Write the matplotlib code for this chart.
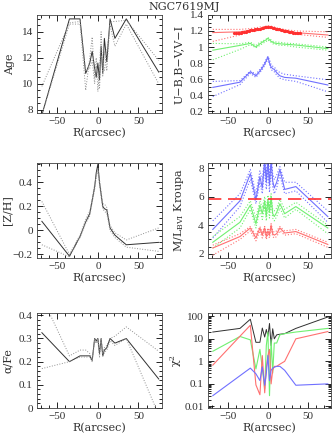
import numpy as np
import matplotlib.pyplot as plt
from matplotlib.ticker import MultipleLocator, FuncFormatter, FixedLocator, LogLocator

# tick numbers in a narrow serif, axis titles in a wider one
plt.rcParams['font.family'] = ['Liberation Serif', 'DejaVu Serif']
plt.rcParams['font.size'] = 7.5
plt.rcParams['mathtext.fontset'] = 'dejavuserif'
LABEL_FONT = ['DejaVu Serif']

# --------------------
# data
# --------------------
R = [-69, -35, -22, -15, -10, -7, -4, -2, 0, 2, 4, 6, 8, 11, 15, 21, 35, 75]

age = [7.6, 15.0, 15.0, 10.8, 11.6, 12.5, 11.2, 10.5, 11.6, 10.3, 12.9, 10.8, 13.5, 11.7, 15.0, 13.5, 15.0, 10.9]
age_hi = [9.8, 14.7, 14.8, 9.5, 12.0, 13.6, 10.5, 12.0, 9.4, 11.0, 14.0, 10.6, 12.5, 11.0, 14.8, 14.8, 14.9, 11.8]
age_lo = [7.6, 14.6, 14.6, 11.0, 11.2, 11.8, 10.0, 11.4, 10.8, 9.6, 12.2, 11.4, 11.0, 12.5, 14.5, 12.9, 14.6, 10.0]

zh = [0.075, -0.215, -0.05, 0.07, 0.14, 0.25, 0.36, 0.48, 0.55, 0.40, 0.30, 0.20, 0.18, 0.17, 0.02, -0.04, -0.12, -0.10]
zh_hi = [0.24, -0.20, -0.04, 0.09, 0.16, 0.26, 0.38, 0.46, 0.52, 0.42, 0.32, 0.22, 0.22, 0.19, 0.04, -0.02, -0.08, 0.02]
zh_lo = [-0.12, -0.22, -0.06, 0.06, 0.12, 0.23, 0.34, 0.44, 0.50, 0.38, 0.28, 0.18, 0.16, 0.14, 0.00, -0.06, -0.14, -0.175]

afe = [0.325, 0.20, 0.225, 0.225, 0.225, 0.205, 0.30, 0.29, 0.30, 0.235, 0.30, 0.225, 0.25, 0.26, 0.30, 0.28, 0.30, 0.125]
afe_hi = [0.48, 0.225, 0.25, 0.25, 0.235, 0.21, 0.30, 0.28, 0.30, 0.25, 0.30, 0.24, 0.26, 0.27, 0.30, 0.31, 0.35, 0.245]
afe_lo = [0.17, 0.20, 0.22, 0.22, 0.22, 0.20, 0.29, 0.28, 0.29, 0.22, 0.29, 0.22, 0.24, 0.25, 0.29, 0.27, 0.30, -0.03]

# colours: V-I (red), B-V (green), U-B (blue)
vi = [1.18, 1.19, 1.21, 1.22, 1.23, 1.24, 1.25, 1.255, 1.26, 1.25, 1.245, 1.24, 1.235, 1.23, 1.22, 1.21, 1.18, 1.15]
vi_hi = [1.22, 1.22, 1.23, 1.24, 1.25, 1.25, 1.26, 1.26, 1.27, 1.26, 1.26, 1.25, 1.25, 1.24, 1.23, 1.22, 1.20, 1.19]
vi_lo = [1.07, 1.15, 1.19, 1.20, 1.21, 1.22, 1.23, 1.24, 1.24, 1.24, 1.23, 1.22, 1.22, 1.21, 1.20, 1.19, 1.16, 1.12]
bv = [0.96, 1.02, 1.045, 1.0, 1.04, 1.06, 1.08, 1.09, 1.11, 1.09, 1.07, 1.06, 1.05, 1.045, 1.04, 1.035, 1.025, 0.98]
bv_hi = [1.045, 1.04, 1.06, 1.02, 1.06, 1.07, 1.09, 1.10, 1.12, 1.10, 1.09, 1.07, 1.07, 1.06, 1.06, 1.05, 1.04, 1.0]
bv_lo = [0.84, 0.97, 1.03, 0.99, 1.02, 1.04, 1.06, 1.07, 1.09, 1.07, 1.06, 1.04, 1.04, 1.03, 1.02, 1.02, 1.0, 0.96]
ub = [0.495, 0.56, 0.69, 0.64, 0.70, 0.74, 0.79, 0.83, 0.88, 0.80, 0.75, 0.73, 0.72, 0.68, 0.64, 0.62, 0.61, 0.525]
ub_hi = [0.57, 0.58, 0.70, 0.66, 0.72, 0.76, 0.81, 0.85, 0.88, 0.84, 0.78, 0.76, 0.75, 0.71, 0.68, 0.66, 0.64, 0.59]
ub_lo = [0.38, 0.53, 0.67, 0.62, 0.68, 0.72, 0.77, 0.81, 0.85, 0.78, 0.72, 0.70, 0.69, 0.65, 0.61, 0.59, 0.57, 0.44]

# observed V-I profile (dense points)
R_obs = [-42, -40, -38, -36, -34, -32, -30, -28, -26, -24, -22, -20, -18, -16, -14, -12, -10, -8, -6, -4, -2,
         0, 2, 4, 6, 8, 10, 12, 14, 16, 18, 20, 22, 24, 26, 28, 30, 32, 34, 36, 38, 40]
vi_obs = [1.17, 1.17, 1.175, 1.18, 1.18, 1.185, 1.19, 1.19, 1.20, 1.20, 1.21, 1.21, 1.215, 1.22, 1.22, 1.225,
          1.23, 1.235, 1.24, 1.245, 1.25, 1.255, 1.25, 1.245, 1.24, 1.235, 1.23, 1.225, 1.22, 1.215, 1.21,
          1.205, 1.20, 1.195, 1.19, 1.19, 1.185, 1.18, 1.175, 1.175, 1.17, 1.17]

# M/L in B, V, I
ml_b = [3.7, 5.7, 7.6, 5.8, 7.4, 6.6, 8.6, 7.0, 8.5, 6.8, 8.6, 7.1, 6.6, 7.0, 7.9, 6.5, 6.7, 4.6]
ml_b_hi = [4.3, 6.2, 7.9, 6.2, 7.8, 7.2, 8.8, 7.6, 8.9, 7.4, 8.8, 7.6, 7.2, 7.5, 8.1, 7.0, 7.0, 5.0]
ml_b_lo = [3.1, 5.3, 7.2, 5.5, 7.0, 6.2, 8.0, 6.5, 7.9, 6.3, 8.0, 6.7, 6.2, 6.6, 7.5, 6.2, 6.4, 4.2]
ml_v = [2.8, 4.2, 5.4, 4.1, 5.4, 4.8, 5.7, 4.6, 5.8, 4.9, 6.0, 4.8, 4.6, 4.9, 5.5, 4.8, 5.3, 3.8]
ml_v_hi = [3.2, 4.6, 5.7, 4.5, 5.7, 5.2, 6.0, 5.0, 6.1, 5.3, 6.2, 5.1, 5.0, 5.2, 5.8, 5.1, 5.6, 4.0]
ml_v_lo = [2.4, 3.8, 5.1, 3.8, 5.1, 4.4, 5.3, 4.3, 5.4, 4.5, 5.6, 4.5, 4.3, 4.6, 5.2, 4.5, 5.1, 3.4]
ml_i = [2.4, 3.2, 3.8, 3.1, 3.8, 3.3, 3.8, 3.2, 3.6, 3.3, 4.0, 3.4, 3.3, 3.4, 3.8, 3.45, 3.55, 2.65]
ml_i_hi = [2.6, 3.4, 3.9, 3.3, 3.9, 3.5, 3.9, 3.4, 3.8, 3.5, 4.1, 3.6, 3.5, 3.6, 3.9, 3.6, 3.7, 2.8]
ml_i_lo = [1.9, 3.0, 3.6, 2.9, 3.6, 3.1, 3.6, 3.0, 3.4, 3.1, 3.8, 3.2, 3.1, 3.2, 3.6, 3.3, 3.4, 2.45]
ml_dyn = 5.8

# chi^2 of the fits
chi_all = [20, 29, 74, 7, 7, 30, 12, 26, 13, 48, 5, 28, 10, 15, 16, 17, 29, 93]
chi_g = [2.8, 12.7, 9, 0.46, 3.4, 0.5, 0.06, 5, 20, 0.03, 9.2, 0.3, 6.5, 6.5, 15, 17, 20, 29]
chi_r = [0.68, 13, 40, 0.09, 0.033, 1.8, 0.04, 0.5, 1.8, 3.4, 0.1, 0.4, 0.6, 0.6, 0.75, 1.0, 10, 21]
chi_b = [0.03, 0.23, 0.5, 0.28, 0.14, 0.57, 0.087, 0.3, 1.8, 0.14, 0.4, 0.5, 0.55, 0.6, 0.6, 0.4, 0.087, 0.1]
chi_ticks = [0.01, 0.1, 1, 10, 100]

RED, GREEN, BLUE = '#ff3030', '#30e030', '#4040ff'
LRED, LGREEN, LBLUE = '#ff7070', '#70f070', '#7070ff'
DARK, GREY = '#303030', '#909090'
TXT = '#303030'

fig = plt.figure(figsize=(3.32, 4.38), dpi=100)

W, H = 332.0, 438.0
cols = [(37, 125), (208, 123)]
rows = [(15, 113), (163, 258), (313, 408)]


def make_ax(c, r):
    x0, w = cols[c]
    top, bot = rows[r]
    ax = fig.add_axes([x0 / W, 1 - bot / H, w / W, (bot - top) / H])
    ax.set_xlim(-75, 79)
    ax.xaxis.set_major_locator(MultipleLocator(50))
    ax.xaxis.set_minor_locator(MultipleLocator(10))
    ax.tick_params(which='both', direction='in', top=True, right=True, width=0.6, labelsize=8, pad=3,
                   labelcolor=TXT)
    ax.tick_params(which='major', length=4)
    ax.tick_params(which='minor', length=2)
    for s in ax.spines.values():
        s.set_linewidth(0.6)
        s.set_color('#404040')
    ax.set_xlabel('R(arcsec)', fontsize=8, labelpad=1, color=TXT, family=LABEL_FONT)
    return ax


def ylabel(ax, text, xpix, c):
    # place the y title centred at a given pixel column
    x0, w = cols[c]
    ax.set_ylabel(text, fontsize=8, color=TXT, family=LABEL_FONT, va='center')
    ax.yaxis.set_label_coords((xpix - x0) / w, 0.5)


fmt = FuncFormatter(lambda v, p: ('%g' % v).replace('-', '\u2212'))

# Age
ax = make_ax(0, 0)
ax.plot(R, age, color=DARK, lw=0.7)
ax.plot(R, age_hi, color=GREY, lw=0.7, ls=':')
ax.plot(R, age_lo, color=GREY, lw=0.7, ls=':')
ax.set_ylim(7.75, 15.3)
ax.yaxis.set_major_locator(MultipleLocator(2))
ax.yaxis.set_minor_locator(MultipleLocator(0.5))
ax.yaxis.set_major_formatter(fmt)
ylabel(ax, 'Age', 10, 0)

# colours
ax = make_ax(1, 0)
for y, yh, yl, c, lc in [(vi, vi_hi, vi_lo, RED, LRED), (bv, bv_hi, bv_lo, GREEN, LGREEN),
                         (ub, ub_hi, ub_lo, BLUE, LBLUE)]:
    ax.plot(R, y, color=lc, lw=0.8)
    ax.plot(R, yh, color=lc, lw=0.8, ls=':')
    ax.plot(R, yl, color=lc, lw=0.8, ls=':')
ax.plot(R_obs, vi_obs, 'o', color=RED, ms=2.3, mew=0)
ax.set_ylim(0.175, 1.4)
ax.yaxis.set_major_locator(MultipleLocator(0.2))
ax.yaxis.set_minor_locator(MultipleLocator(0.05))
ax.yaxis.set_major_formatter(fmt)
ylabel(ax, 'U\u2212B,B\u2212V,V\u2212I', 179, 1)

# [Z/H]
ax = make_ax(0, 1)
ax.plot(R, zh, color=DARK, lw=0.7)
ax.plot(R, zh_hi, color=GREY, lw=0.7, ls=':')
ax.plot(R, zh_lo, color=GREY, lw=0.7, ls=':')
ax.set_ylim(-0.23, 0.56)
ax.yaxis.set_major_locator(MultipleLocator(0.2))
ax.yaxis.set_minor_locator(MultipleLocator(0.05))
ax.yaxis.set_major_formatter(fmt)
ylabel(ax, '[Z/H]', 7, 0)

# M/L
ax = make_ax(1, 1)
for y, yh, yl, c, lc in [(ml_b, ml_b_hi, ml_b_lo, BLUE, LBLUE), (ml_v, ml_v_hi, ml_v_lo, GREEN, LGREEN),
                         (ml_i, ml_i_hi, ml_i_lo, RED, LRED)]:
    ax.plot(R, y, color=lc, lw=0.8)
    ax.plot(R, yh, color=lc, lw=0.8, ls=':')
    ax.plot(R, yl, color=lc, lw=0.8, ls=':')
ax.axhline(ml_dyn, color=RED, lw=1.2, dashes=(8, 4))
ax.set_ylim(1.7, 8.35)
ax.yaxis.set_major_locator(MultipleLocator(2))
ax.yaxis.set_minor_locator(MultipleLocator(0.5))
ax.yaxis.set_major_formatter(fmt)
ylabel(ax, r'M/L$_{\mathrm{BVI}}$ Kroupa', 179, 1)

# alpha/Fe
ax = make_ax(0, 2)
ax.plot(R, afe, color=DARK, lw=0.7)
ax.plot(R, afe_hi, color=GREY, lw=0.7, ls=':')
ax.plot(R, afe_lo, color=GREY, lw=0.7, ls=':')
ax.set_ylim(0, 0.41)
ax.yaxis.set_major_locator(MultipleLocator(0.1))
ax.yaxis.set_minor_locator(MultipleLocator(0.02))
ax.yaxis.set_major_formatter(fmt)
ylabel(ax, '\u03b1/Fe', 8, 0)

# chi^2
ax = make_ax(1, 2)
ax.plot(R, chi_all, color=DARK, lw=0.7)
ax.plot(R, chi_g, color=LGREEN, lw=0.8)
ax.plot(R, chi_r, color=LRED, lw=0.8)
ax.plot(R, chi_b, color=LBLUE, lw=0.8)
ax.set_yscale('log')
ax.set_ylim(0.0085, 140)
ax.yaxis.set_major_locator(FixedLocator(chi_ticks))
ax.yaxis.set_minor_locator(LogLocator(base=10, subs=np.arange(2, 10), numticks=20))
ax.yaxis.set_major_formatter(FuncFormatter(lambda v, p: '%g' % v))
ax.tick_params(axis='y', which='minor', left=True, right=True, direction='in', length=2)
ylabel(ax, '\u03c7$^2$', 176, 1)

fig.text(184 / W, 1 - 7 / H, 'NGC7619MJ', ha='center', va='center', fontsize=8, color=TXT,
         family=LABEL_FONT)

fig.savefig('out.png', dpi=100)
